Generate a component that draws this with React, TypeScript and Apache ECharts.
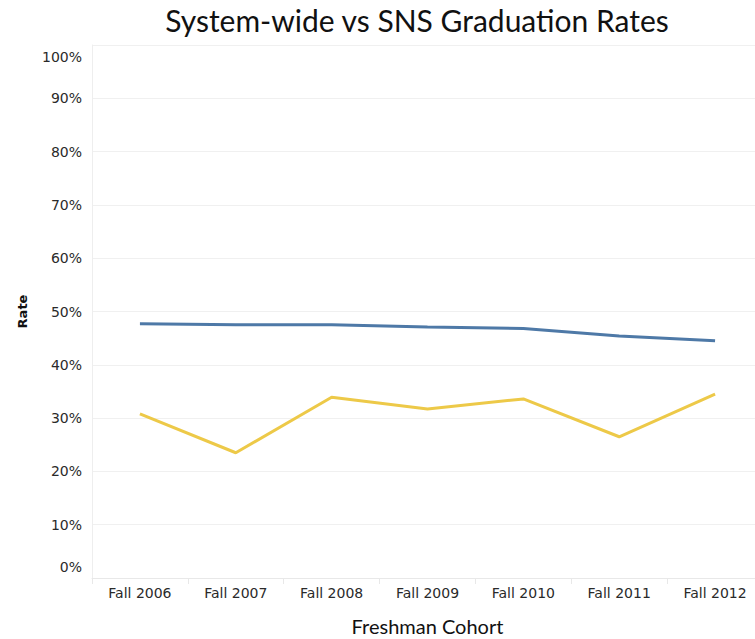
import React, { useEffect, useRef } from "react";
import * as echarts from "echarts";

const categories = ["Fall 2006", "Fall 2007", "Fall 2008", "Fall 2009", "Fall 2010", "Fall 2011", "Fall 2012"];
const systemWide = [47.7, 47.5, 47.5, 47.1, 46.8, 45.4, 44.5];
const sns = [30.8, 23.5, 33.9, 31.7, 33.6, 26.5, 34.5];
const yTicks = { min: 0, max: 100, interval: 10 };

export default function App() {
  const ref = useRef<HTMLDivElement>(null);
  useEffect(() => {
    if (!ref.current) return;
    const chart = echarts.init(ref.current, null, { renderer: "svg" });
    const labelFont = { fontFamily: "DejaVu Sans", fontSize: 14, color: "#2a2a2a" };
    chart.setOption({
      animation: false,
      backgroundColor: "#ffffff",
      title: {
        text: "System-wide vs SNS Graduation Rates",
        left: 412,
        textAlign: "center",
        top: 0,
        textStyle: { fontFamily: "Lato", fontSize: 30, fontWeight: "normal", color: "#111" },
      },
      grid: { left: 92, right: -8, top: 45, bottom: 61, containLabel: false, outerBoundsMode: "none" },
      xAxis: {
        type: "category",
        data: categories,
        boundaryGap: true,
        name: "Freshman Cohort",
        nameLocation: "middle",
        nameGap: 38,
        nameTextStyle: { fontFamily: "Lato", fontSize: 20, lineHeight: 20, color: "#111" },
        axisLine: { show: true, lineStyle: { color: "#e8e8e8", width: 1 } },
        axisTick: { show: true, length: 6, lineStyle: { color: "#e8e8e8" } },
        axisLabel: { ...labelFont, margin: 8 },
        splitLine: { show: false },
      },
      yAxis: {
        type: "value",
        min: yTicks.min,
        max: yTicks.max,
        interval: yTicks.interval,
        name: "Rate",
        nameLocation: "middle",
        nameRotate: 90,
        nameGap: 63,
        nameTextStyle: { fontFamily: "DejaVu Sans", fontSize: 13, fontWeight: "bold", color: "#111" },
        axisLine: { show: true, lineStyle: { color: "#eeeeee", width: 1 } },
        axisTick: { show: false },
        axisLabel: {
          formatter: (v: number) =>
            v === yTicks.max ? "{top|" + v + "%}" : v === yTicks.min ? "{bot|" + v + "%}" : v + "%",
          rich: {
            top: { ...labelFont, padding: [5, 0, 0, 0] },
            bot: { ...labelFont, padding: [0, 0, 4, 0] },
          },
          ...labelFont,
          margin: 10,
          verticalAlignMinLabel: "bottom",
          verticalAlignMaxLabel: "top",
        },
        splitLine: { show: true, lineStyle: { color: "#f0f0f0", width: 1 } },
      },
      series: [
        {
          name: "System-wide",
          type: "line",
          data: systemWide,
          symbol: "none",
          lineStyle: { color: "#4e79a7", width: 3 },
          itemStyle: { color: "#4e79a7" },
        },
        {
          name: "SNS",
          type: "line",
          data: sns,
          symbol: "none",
          lineStyle: { color: "#edc948", width: 3 },
          itemStyle: { color: "#edc948" },
        },
      ],
    });
    return () => chart.dispose();
  }, []);
  return <div ref={ref} style={{ width: 755, height: 639, position: "absolute", left: 0, top: 0 }} />;
}
